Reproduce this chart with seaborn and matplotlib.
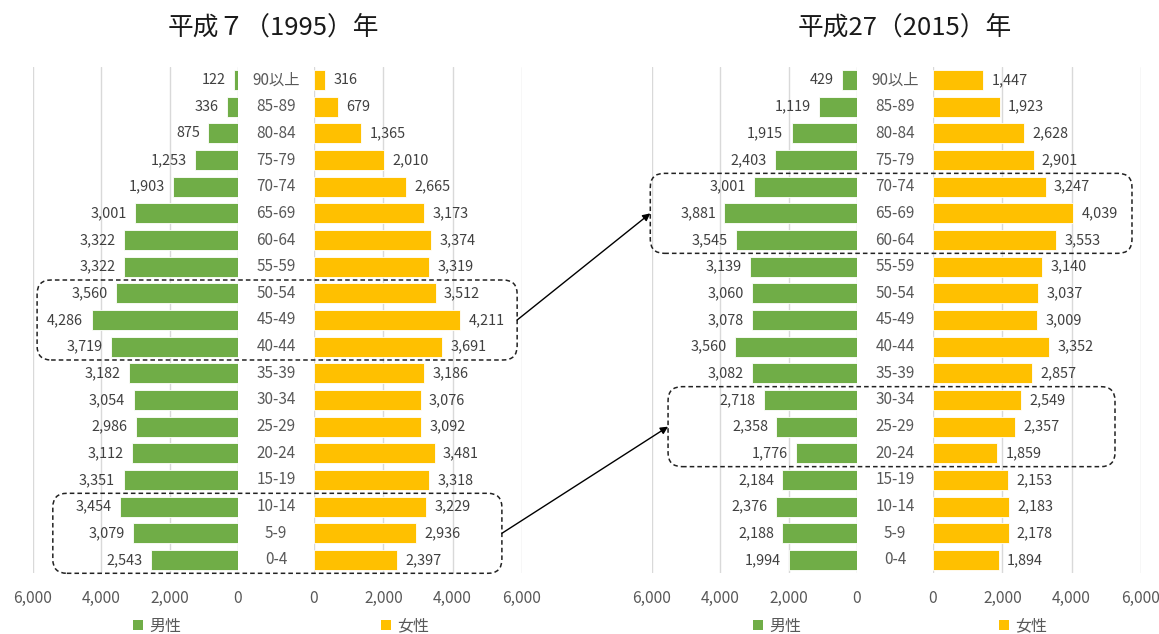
import matplotlib
matplotlib.use("Agg")
import matplotlib.pyplot as plt
import seaborn as sns
import pandas as pd
from matplotlib.patches import Patch, FancyBboxPatch, FancyArrowPatch
from matplotlib.ticker import FuncFormatter
from matplotlib.transforms import IdentityTransform, blended_transform_factory

# Age groups, oldest at the top
ages = ["90以上", "85-89", "80-84", "75-79", "70-74", "65-69", "60-64", "55-59",
        "50-54", "45-49", "40-44", "35-39", "30-34", "25-29", "20-24", "15-19",
        "10-14", "5-9", "0-4"]

male_1995 = [122, 336, 875, 1253, 1903, 3001, 3322, 3322, 3560, 4286, 3719,
             3182, 3054, 2986, 3112, 3351, 3454, 3079, 2543]
female_1995 = [316, 679, 1365, 2010, 2665, 3173, 3374, 3319, 3512, 4211, 3691,
               3186, 3076, 3092, 3481, 3318, 3229, 2936, 2397]
male_2015 = [429, 1119, 1915, 2403, 3001, 3881, 3545, 3139, 3060, 3078, 3560,
             3082, 2718, 2358, 1776, 2184, 2376, 2188, 1994]
female_2015 = [1447, 1923, 2628, 2901, 3247, 4039, 3553, 3140, 3037, 3009, 3352,
               2857, 2549, 2357, 1859, 2153, 2183, 2178, 1894]

titles = ["平成７（1995）年", "平成27（2015）年"]
sex_labels = ["男性", "女性"]
x_ticks = [0, 2000, 4000, 6000]

GREEN = "#70AD47"
YELLOW = "#FFC000"
GRID = "#D9D9D9"
TEXT = "#595959"
VALUE = "#404040"

sns.set_style("white")
plt.rcParams["font.family"] = ["Noto Sans CJK JP", "DejaVu Sans"]

W, H = 1159, 634
fig = plt.figure(figsize=(W / 100, H / 100), dpi=100)


def fx(px):
    return px / W


def fy(py):
    return 1 - py / H


top_px, bot_px = 66.7, 573.3


def make_axes(left_px, right_px):
    return fig.add_axes([fx(left_px), fy(bot_px), fx(right_px - left_px),
                         (bot_px - top_px) / H])


fmt = FuncFormatter(lambda v, _: f"{v:,.0f}")

panels = [
    dict(male=male_1995, female=female_1995, m=(33, 238), f=(314, 522),
         title_x=273, leg_m=157, leg_f=405),
    dict(male=male_2015, female=female_2015, m=(652, 857), f=(933, 1141),
         title_x=905, leg_m=777, leg_f=1023),
]

axes_store = []
for i, p in enumerate(panels):
    ax_m = make_axes(*p["m"])
    ax_f = make_axes(*p["f"])
    for ax, vals, col, lab, legx, xl in (
            (ax_m, p["male"], GREEN, sex_labels[0], p["leg_m"], (6000, 0)),
            (ax_f, p["female"], YELLOW, sex_labels[1], p["leg_f"], (0, 6000))):
        df = pd.DataFrame({"age": ages, "value": vals})
        sns.barplot(data=df, x="value", y="age", orient="h", color=col,
                    order=ages, width=0.74, edgecolor="white", linewidth=0.6,
                    saturation=1, ax=ax)
        # male half grows to the left
        ax.set_xlim(*xl)
        ax.set_ylim(len(ages) - 0.5, -0.5)
        ax.set_xticks(x_ticks)
        ax.xaxis.set_major_formatter(fmt)
        ax.tick_params(axis="x", length=0, pad=12, labelsize=11.2, labelcolor=TEXT)
        ax.set_yticks([])
        ax.set_xlabel("")
        ax.set_ylabel("")
        ax.grid(axis="x", color=GRID, linewidth=1)
        ax.set_axisbelow(True)
        for s in ax.spines.values():
            s.set_visible(False)
        ax.bar_label(ax.containers[0], labels=[f"{v:,}" for v in vals],
                     padding=6, fontsize=10.4, color=VALUE)
        ax.legend(handles=[Patch(facecolor=col, edgecolor="none")], labels=[lab],
                  loc="center", bbox_to_anchor=(fx(legx), fy(626)),
                  bbox_transform=fig.transFigure, frameon=False,
                  handlelength=0.65, handleheight=0.65, handletextpad=0.35,
                  fontsize=11.5, labelcolor=TEXT)

    # age group labels in the gap between the two halves
    mid = (p["m"][1] + p["f"][0]) / 2
    tr = blended_transform_factory(fig.transFigure, ax_f.transData)
    for j, a in enumerate(ages):
        ax_f.text(fx(mid), j, a, transform=tr, ha="center", va="center",
                  fontsize=11, color=TEXT)

    fig.text(fx(p["title_x"]), fy(28), titles[i], ha="center", va="center",
             fontsize=18.5, color="#1a1a1a")
    axes_store.append((ax_m, ax_f))

fig.canvas.draw()

# Highlight boxes: (panel, male extent, female extent, top group, bottom group)
boxes = [
    (0, 5880, 5860, "50-54", "40-44"),
    (0, 5420, 5420, "10-14", "0-4"),
    (1, 6050, 5740, "70-74", "60-64"),
    (1, 5530, 5250, "30-34", "20-24"),
]


def box_pixels(b):
    k, mx, fxv, top_a, bot_a = b
    ax_m, ax_f = axes_store[k]
    x0 = ax_m.transData.transform((mx, 0))[0]
    x1 = ax_f.transData.transform((fxv, 0))[0]
    y_top = ax_m.transData.transform((0, ages.index(top_a) - 0.5))[1]
    y_bot = ax_m.transData.transform((0, ages.index(bot_a) + 0.5))[1]
    return x0, x1, min(y_top, y_bot), max(y_top, y_bot)


rects = []
for b in boxes:
    x0, x1, ylo, yhi = box_pixels(b)
    rects.append((x0, x1, ylo, yhi))
    patch = FancyBboxPatch((x0, ylo), x1 - x0, yhi - ylo,
                           boxstyle="round,pad=0,rounding_size=14",
                           transform=IdentityTransform(), fill=False,
                           edgecolor="#222222", linewidth=1.1,
                           linestyle=(0, (3, 2)))
    fig.add_artist(patch)

# Arrows linking each 1995 cohort to where it stands in 2015
for src, dst in ((0, 2), (1, 3)):
    sx = rects[src][1]
    sy = (rects[src][2] + rects[src][3]) / 2
    dx = rects[dst][0]
    dy = (rects[dst][2] + rects[dst][3]) / 2
    fig.add_artist(FancyArrowPatch(
        (sx, sy), (dx, dy), transform=IdentityTransform(),
        arrowstyle="-|>", mutation_scale=11, color="black", linewidth=1,
        shrinkA=0, shrinkB=0))

fig.savefig("out.png", dpi=100)
